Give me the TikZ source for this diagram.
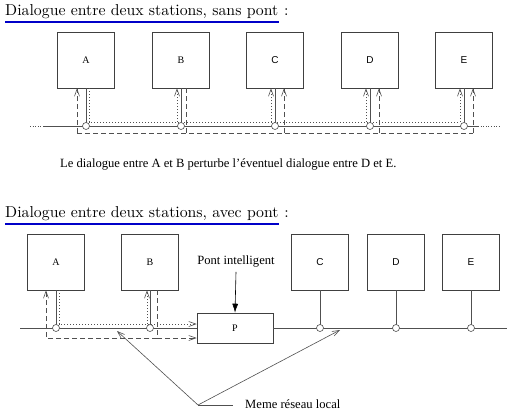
\documentclass[tikz,border=0pt]{standalone}
\usepackage{fontspec}
\usetikzlibrary{arrows.meta}
\newfontfamily\timesfont{Liberation Serif}
\newfontfamily\arialfont{Liberation Sans}
\newfontfamily\titrefont{lmroman10-regular}[Extension = .otf]
\definecolor{trait}{HTML}{505050}
\definecolor{bleu}{HTML}{0000C8}
\tikzset{>={Straight Barb[length=7pt,width=5pt]}}
\tikzset{
  station/.style = {draw = black!75, line width = 0.6pt, minimum width = 57pt, minimum height = 56pt, inner sep = 0pt, font = \timesfont\fontsize{10}{12}\selectfont},
  prise/.style = {circle, draw = trait, line width = 0.6pt, fill = white, minimum size = 7pt, inner sep = 0pt},
  cable/.style = {draw = trait, line width = 0.6pt},
  sigA/.style = {draw = trait, line width = 0.6pt, dash pattern = on 1pt off 2pt},
  sigB/.style = {draw = trait, line width = 0.6pt, dash pattern = on 5pt off 3pt},
  titre/.style = {inner sep = 0pt, font = \titrefont\fontsize{15.8}{18}\selectfont},
  legende/.style = {inner sep = 0pt, font = \timesfont\fontsize{12.6}{14}\selectfont}
}
\begin{document}
\begin{tikzpicture}[x = 1pt, y = -1pt]
\useasboundingbox (0,0) rectangle (521,413);

\node[titre, anchor = base west] (titre1) at (5,15) {Dialogue entre deux stations, sans pont};
\node[titre, anchor = base west] at (titre1.base east) {\ :};
\draw[bleu, line width = 2pt] ([yshift = -7pt]titre1.base west) -- ([yshift = -7pt]titre1.base east);

\foreach \s/\x in {A/86, B/181} \node[station] (\s1) at (\x,60) {\s};
\foreach \s/\x in {C/275, D/370, E/464} \node[station, font = \arialfont\fontsize{10}{12}\selectfont] (\s1) at (\x,60) {\s};

\coordinate (niv1) at (0,122);
\coordinate (niv2) at (0,133);
\coordinate (bus1) at (0,126);
\coordinate (sA1) at ([xshift = 3pt]A1.south);
\coordinate (sB1) at ([xshift = 5pt]B1.south);
\coordinate (eA1) at ([xshift = -9pt]A1.south);
\foreach \s in {B1, C1, D1, E1} \coordinate (r\s) at ([xshift = -4pt]\s.south);
\foreach \s in {C1, D1, E1} \coordinate (e\s) at ([xshift = 9pt]\s.south);

\draw[sigA] (sA1) |- (rE1 |- niv1);
\foreach \s in {B1, C1, D1, E1} \draw[sigA, ->] (r\s |- niv1) -- (r\s);

\draw[sigB] (sB1) -- (sB1 |- niv2);
\draw[sigB] (eA1 |- niv2) -- (eE1 |- niv2);
\foreach \s in {A1, C1, D1, E1} \draw[sigB, ->] (e\s |- niv2) -- (e\s);

\draw[cable, dotted] (30,126) -- (43,126);
\draw[cable] (43,126) -- (478,126);
\draw[cable, dotted] (478,126) -- (500,126);
\foreach \s in {A1, B1, C1, D1, E1} \draw[cable] (\s.south) -- (\s.south |- bus1) node[prise] (p\s) {};

\node[legende, anchor = base west] (phrase) at (60,167) {Le dialogue entre A et B perturbe l’éventuel dialogue entre D et E.};

\node[titre, anchor = base west] (titre2) at (5,217) {Dialogue entre deux stations, avec pont};
\node[titre, anchor = base west] at (titre2.base east) {\ :};
\draw[bleu, line width = 2pt] ([yshift = -7pt]titre2.base west) -- ([yshift = -7pt]titre2.base east);

\foreach \s/\x in {A/56, B/150} \node[station] (\s2) at (\x,262) {\s};
\foreach \s/\x in {C/320, D/396, E/471} \node[station, font = \arialfont\fontsize{10}{12}\selectfont] (\s2) at (\x,262) {\s};
\node[draw = black!75, line width = 0.6pt, minimum width = 76pt, minimum height = 30pt, inner sep = 0pt, font = \timesfont\fontsize{10}{12}\selectfont] (P) at (235,328) {P};

\coordinate (niv3) at (0,324);
\coordinate (niv4) at (0,338);
\coordinate (bus2) at (0,328);
\coordinate (sA2) at ([xshift = 3pt]A2.south);
\coordinate (sB2) at ([xshift = 7pt]B2.south);
\coordinate (rB2) at ([xshift = -3pt]B2.south);
\coordinate (eA2) at ([xshift = -10pt]A2.south);

\draw[sigA, ->] (sA2) |- (P.west |- niv3);
\draw[sigA, ->] (rB2 |- niv3) -- (rB2);
\draw[sigB] (sB2) -- (sB2 |- niv4);
\draw[sigB, ->] (sB2 |- niv4) -| (eA2);
\draw[sigB, ->] (sB2 |- niv4) -- (P.west |- niv4);

\draw[cable] (20,328) -- (P.west);
\draw[cable] (P.east) -- (507,328);
\foreach \s in {A2, B2, C2, D2, E2} \draw[cable] (\s.south) -- (\s.south |- bus2) node[prise] (p\s) {};

\node[legende, anchor = base] (pont) at (236,264) {Pont intelligent};
\draw[black, line width = 0.6pt, -{Latex[length = 9pt, width = 6pt]}] ([yshift = -5pt]pont.south) -- (P.north);

\node[legende, anchor = base west] (reseau) at (245,408) {Meme réseau local};
\coordinate (sommet) at (198,405);
\coordinate (finbarre) at (233,405);
\coordinate (cible1) at (117,331);
\coordinate (cible2) at (340,330);
\draw[cable] (sommet) -- (finbarre);
\draw[cable, ->] (sommet) -- (cible1);
\draw[cable, ->] (sommet) -- (cible2);

\end{tikzpicture}
\end{document}
